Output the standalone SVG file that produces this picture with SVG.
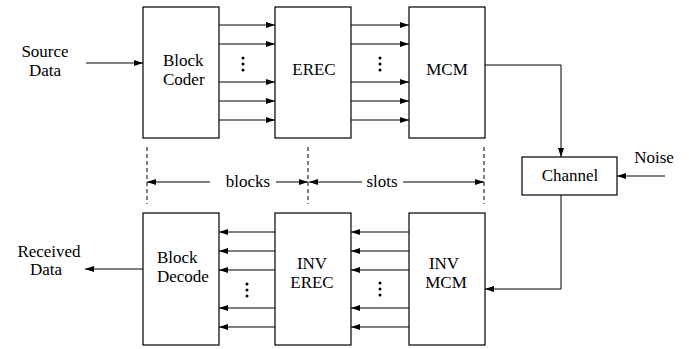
<svg xmlns="http://www.w3.org/2000/svg" width="689" height="349" viewBox="0 0 689 349">
<style>
.box{fill:#fff;stroke:#000;stroke-width:1.2}
.ln{fill:none;stroke:#000;stroke-width:1}
.dash{fill:none;stroke:#000;stroke-width:1;stroke-dasharray:4 3}
text{font-family:'Liberation Serif','DejaVu Serif','Times New Roman',serif;font-size:17px;fill:#000}
.c{text-anchor:middle}
</style>
<defs>
<marker id="ah" markerUnits="userSpaceOnUse" markerWidth="9" markerHeight="6" refX="9" refY="3" orient="auto">
<path d="M0,0 L9,3 L0,6 z" fill="#000"/>
</marker>
</defs>
<rect width="689" height="349" fill="#fff"/>
<g id="source-data"><text class="c" x="45" y="57">Source</text><text class="c" x="45" y="76">Data</text></g>
<g id="received-data"><text class="c" x="49" y="257">Received</text><text class="c" x="46" y="275">Data</text></g>
<g id="noise"><text class="c" x="654" y="163">Noise</text></g>
<g id="block-coder"><rect class="box" x="143" y="7" width="76" height="131"/><text x="163" y="66">Block</text><text x="163" y="85">Coder</text></g>
<g id="erec"><rect class="box" x="275" y="7" width="76" height="131"/><text class="c" x="314" y="75">EREC</text></g>
<g id="mcm"><rect class="box" x="409" y="7" width="76" height="131"/><text class="c" x="447" y="75">MCM</text></g>
<g id="channel"><rect class="box" x="522" y="157" width="95" height="38"/><text class="c" x="570" y="181">Channel</text></g>
<g id="block-decode"><rect class="box" x="143" y="213" width="76" height="132"/><text x="157" y="263">Block</text><text x="157" y="282">Decode</text></g>
<g id="inv-erec"><rect class="box" x="275" y="213" width="76" height="132"/><text class="c" x="312" y="269">INV</text><text class="c" x="312" y="288">EREC</text></g>
<g id="inv-mcm"><rect class="box" x="409" y="213" width="76" height="132"/><text class="c" x="444" y="269">INV</text><text class="c" x="446" y="288">MCM</text></g>
<g id="connectors">
<line class="ln" x1="86" y1="63" x2="143" y2="63" marker-end="url(#ah)"/>
<line class="ln" x1="219" y1="25" x2="275" y2="25" marker-end="url(#ah)"/>
<line class="ln" x1="219" y1="44" x2="275" y2="44" marker-end="url(#ah)"/>
<line class="ln" x1="219" y1="82" x2="275" y2="82" marker-end="url(#ah)"/>
<line class="ln" x1="219" y1="101" x2="275" y2="101" marker-end="url(#ah)"/>
<line class="ln" x1="219" y1="120" x2="275" y2="120" marker-end="url(#ah)"/>
<line class="ln" x1="351" y1="25" x2="409" y2="25" marker-end="url(#ah)"/>
<line class="ln" x1="351" y1="44" x2="409" y2="44" marker-end="url(#ah)"/>
<line class="ln" x1="351" y1="82" x2="409" y2="82" marker-end="url(#ah)"/>
<line class="ln" x1="351" y1="101" x2="409" y2="101" marker-end="url(#ah)"/>
<line class="ln" x1="351" y1="120" x2="409" y2="120" marker-end="url(#ah)"/>
<polyline class="ln" points="485,65 561,65 561,157" marker-end="url(#ah)"/>
<line class="ln" x1="665" y1="176" x2="617" y2="176" marker-end="url(#ah)"/>
<polyline class="ln" points="561,195 561,289 485,289" marker-end="url(#ah)"/>
<line class="ln" x1="409" y1="232" x2="351" y2="232" marker-end="url(#ah)"/>
<line class="ln" x1="409" y1="251" x2="351" y2="251" marker-end="url(#ah)"/>
<line class="ln" x1="409" y1="270" x2="351" y2="270" marker-end="url(#ah)"/>
<line class="ln" x1="409" y1="308" x2="351" y2="308" marker-end="url(#ah)"/>
<line class="ln" x1="409" y1="327" x2="351" y2="327" marker-end="url(#ah)"/>
<line class="ln" x1="275" y1="232" x2="219" y2="232" marker-end="url(#ah)"/>
<line class="ln" x1="275" y1="251" x2="219" y2="251" marker-end="url(#ah)"/>
<line class="ln" x1="275" y1="270" x2="219" y2="270" marker-end="url(#ah)"/>
<line class="ln" x1="275" y1="308" x2="219" y2="308" marker-end="url(#ah)"/>
<line class="ln" x1="275" y1="327" x2="219" y2="327" marker-end="url(#ah)"/>
<line class="ln" x1="143" y1="269" x2="85" y2="269" marker-end="url(#ah)"/>
</g>
<g id="ellipses" fill="#000">
<circle cx="243" cy="58" r="1.5"/><circle cx="243" cy="64" r="1.5"/><circle cx="243" cy="70" r="1.5"/>
<circle cx="380" cy="58" r="1.5"/><circle cx="380" cy="64" r="1.5"/><circle cx="380" cy="70" r="1.5"/>
<circle cx="247" cy="284" r="1.5"/><circle cx="247" cy="290" r="1.5"/><circle cx="247" cy="296" r="1.5"/>
<circle cx="380" cy="283" r="1.5"/><circle cx="380" cy="289" r="1.5"/><circle cx="380" cy="295" r="1.5"/>
</g>
<g id="dimensions">
<line class="dash" x1="147" y1="147" x2="147" y2="204"/>
<line class="dash" x1="308" y1="147" x2="308" y2="204"/>
<line class="dash" x1="484" y1="147" x2="484" y2="204"/>
<line class="ln" x1="210" y1="182" x2="147" y2="182" marker-end="url(#ah)"/>
<line class="ln" x1="276" y1="182" x2="308" y2="182" marker-end="url(#ah)"/>
<line class="ln" x1="362" y1="182" x2="309" y2="182" marker-end="url(#ah)"/>
<line class="ln" x1="403" y1="182" x2="484" y2="182" marker-end="url(#ah)"/>
<text class="c" x="248" y="187">blocks</text>
<text class="c" x="382" y="187">slots</text>
</g>
</svg>
